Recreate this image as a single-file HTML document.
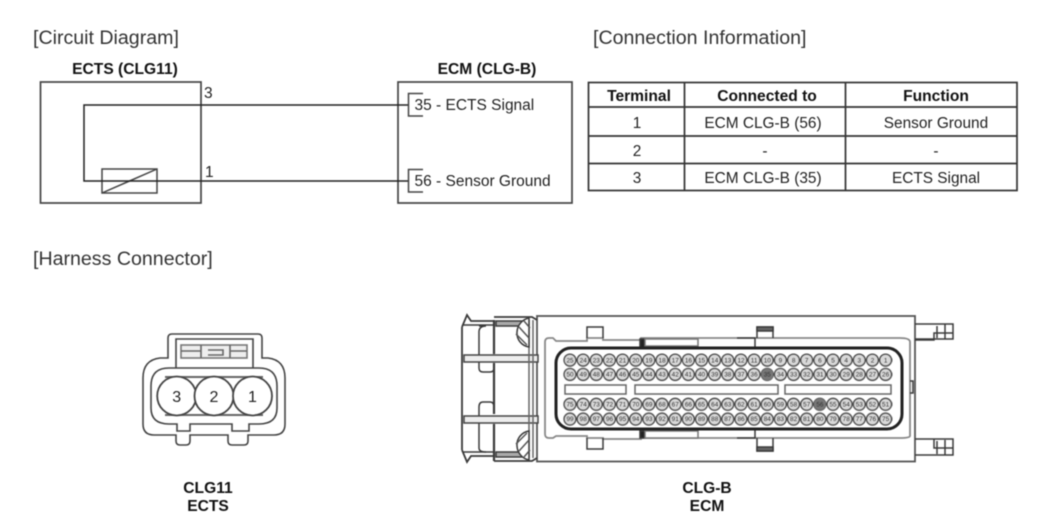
<!DOCTYPE html>
<html><head><meta charset="utf-8"><style>
html,body{margin:0;padding:0;background:#fff;width:1050px;height:528px;overflow:hidden}
svg{display:block;filter:blur(.5px)}
text{font-family:"Liberation Sans",sans-serif;fill:#222}
.h{font-size:19.6px;fill:#333}.b{font-size:15.6px;font-weight:bold;fill:#111;text-anchor:middle}
.t{font-size:15.4px;text-anchor:middle}.l{font-size:15.5px}
.p text{font-size:6.4px;text-anchor:middle;fill:#333}
</style></head><body>
<svg width="1050" height="528" viewBox="0 0 1050 528" xmlns="http://www.w3.org/2000/svg">
<defs>
<pattern id="a" patternUnits="userSpaceOnUse" x="563.4" y="353" width="13.15" height="14.3"><circle cx="6.57" cy="7.1" r="6" fill="#d8d8d8" stroke="#444" stroke-width="1.3"/></pattern>
<pattern id="c" patternUnits="userSpaceOnUse" x="563.4" y="397" width="13.15" height="14.8"><circle cx="6.57" cy="7.3" r="6" fill="#d8d8d8" stroke="#444" stroke-width="1.3"/></pattern>
</defs>
<text class="h" x="33" y="44">[Circuit Diagram]</text>
<text class="h" x="593" y="44">[Connection Information]</text>
<text class="h" x="33" y="265">[Harness Connector]</text>
<text class="b" x="125" y="74">ECTS (CLG11)</text>
<text class="b" x="487" y="74">ECM (CLG-B)</text>
<g fill="none" stroke="#444" stroke-width="1.7">
<rect x="40.5" y="82" width="160.5" height="121"/>
<rect x="398" y="82" width="174" height="121"/>
<rect x="102" y="169" width="55" height="24" stroke-width="1.5"/>
<path d="M102 193L157 169" stroke-width="1.5"/>
<path d="M408 105H84V181H408" stroke="#222" stroke-width="1.5"/>
<path d="M423 93.5H408.500V116H423M423 169.500H408.500V192H423" stroke-width="1.5"/>
</g>
<text class="l" x="204" y="98">3</text>
<text class="l" x="205" y="177">1</text>
<text class="l" x="414.500" y="110">35 - ECTS Signal</text>
<text class="l" x="414.500" y="186">56 - Sensor Ground</text>
<g fill="none" stroke="#333" stroke-width="1.7">
<rect x="588.500" y="82.500" width="428.500" height="108"/>
<path d="M588.500 107H1017M588.500 136H1017M588.500 163.500H1017M684.500 82.500V190.500M845.500 82.500V190.500"/>
</g>
<text class="b" x="639" y="101">Terminal</text>
<text class="b" x="767" y="101">Connected to</text>
<text class="b" x="936" y="101">Function</text>
<text class="t" x="637" y="128">1</text>
<text class="t" x="763" y="128">ECM CLG-B (56)</text>
<text class="t" x="936" y="128">Sensor Ground</text>
<text class="t" x="637" y="156">2</text>
<text class="t" x="765" y="156">-</text>
<text class="t" x="936" y="156">-</text>
<text class="t" x="637" y="183">3</text>
<text class="t" x="763" y="183">ECM CLG-B (35)</text>
<text class="t" x="936" y="183">ECTS Signal</text>

<!-- ECTS connector -->
<g fill="none" stroke="#444" stroke-width="1.6">
<path d="M168 358V338Q168 334 172 334H258Q262 334 262 338V358H268Q285 360 285 378V424Q285 435 274 435H248V441Q248 445 244 445H232Q228 445 228 441V435H190V441Q190 445 186 445H180Q176 445 176 441V435H154Q143 435 143 424V378Q143 360 160 358Z"/>
<path d="M176 368V339H253V368"/>
<rect x="181" y="345" width="66" height="13" stroke="#777" fill="#eee"/>
<path d="M201 345V358M230 345V358M208 350H223V355H208M181 351H201M230 351H247" stroke="#666"/>
<path d="M169 368H259Q277 368 277 386V408Q277 424 259 424H249V431H232V424H190V431H177V424H169Q151 424 151 408V386Q151 368 169 368Z"/>
<path d="M165 377H263M165 415H263" stroke="#666" stroke-width="2"/>
<circle cx="176.700" cy="396" r="19.500" fill="#fff" stroke-width="1.800"/>
<circle cx="214" cy="396" r="19.500" fill="#fff" stroke-width="1.800"/>
<circle cx="252.500" cy="396" r="19.500" fill="#fff" stroke-width="1.800"/>
</g>
<text x="176.700" y="402" style="font-size:16px;text-anchor:middle">3</text>
<text x="214" y="402" style="font-size:16px;text-anchor:middle">2</text>
<text x="252.500" y="402" style="font-size:16px;text-anchor:middle">1</text>
<text class="b" x="208" y="493">CLG11</text>
<text class="b" x="208" y="511">ECTS</text>
<text class="b" x="707" y="493">CLG-B</text>
<text class="b" x="707" y="511">ECM</text>

<!-- ECM connector housing -->
<g fill="none" stroke="#3a3a3a" stroke-width="1.500">
<rect x="537" y="316" width="378" height="145.500" stroke-width="1.800" stroke="#555"/>
<path d="M462 327V450M462 327L467 315L471 321H494M462 450L467 462L471 456H494" stroke-width="1.800"/>
<path d="M463 325H494M463 452H494"/>
<path d="M494 320V354M494 363V414M494 424V461" stroke-width="2.200"/>
<path d="M479 326H486Q479 326 479 332V368Q479 372 483 372H490Q494 372 494 368M494 407Q494 402 490 402H483Q479 402 479 407V448Q479 452 486 452"/>
<path d="M494 317H532L537 320M494 461H532L537 458" stroke-width="1.800"/>
<path d="M496 321H525V326H496ZM496 452H525V457H496Z" fill="#aaa"/>
<rect x="464" y="355" width="74" height="7" fill="#eee" stroke="#444"/>
<rect x="464" y="416" width="74" height="7" fill="#eee" stroke="#444"/>
<path d="M529 320V458M533 320V458" stroke="#666"/>
<path d="M529 318A15 15 0 0 0 517 332A14 14 0 0 0 529 347ZM529 460A15 15 0 0 1 517 446A14 14 0 0 1 529 431Z" fill="#fff" stroke-width="1.500"/>
<path d="M519 327L529 338M516 334L527 345M524 321L530 328M519 451L529 440M516 444L527 433M524 457L530 450" stroke="#555"/>
<path d="M545 342Q545 338 549 338H553L556 341H587V338H603V340H641V338H758V338H900Q910 338 910 342V436Q910 438 900 438H760V438H641V439H603V438H587V436H556L553 438H549Q545 438 545 434Z" stroke="#888" stroke-width="1.800"/>
<path d="M587 338V327H603V338M587 438V449H603V438M757 338V327H773V338M757 438V451H773V438"/>
<path d="M640 339H645V348H640ZM640 431H645V438H640Z" fill="#222"/>
<path d="M645 339H698V346H645ZM645 431H698V438H645Z" stroke="#777" fill="#fff"/>
<path d="M757 327H773V331H757ZM757 447H773V451H757Z" fill="#666"/>
<path d="M737 338H755V348M737 438H755V430"/>
<path d="M915 324H953V339H915M915 340H934V333H953M915 439H953V455H915M934 439V448H953M937 326V338M945 324V339M945 440V455M937 441V454" stroke-width="1.500"/>
<rect x="556" y="348" width="346" height="81" rx="15" stroke="#222" stroke-width="3"/>
<rect x="565" y="385" width="61" height="9" stroke="#666"/>
<rect x="635" y="385" width="143" height="9" stroke="#666"/>
<rect x="785" y="385" width="106" height="9" stroke="#666"/>
<path d="M910 381H913V393H910"/>
</g>
<rect x="563.400" y="353" width="329" height="28.600" fill="url(#a)"/>
<rect x="563.400" y="397" width="329" height="29.600" fill="url(#c)"/>
<circle cx="767.300" cy="374.500" r="6" fill="#777"/>
<circle cx="819.900" cy="404.300" r="6" fill="#777"/>
<g class="p">
<text x="570" y="362.300">25</text><text x="583.200" y="362.300">24</text><text x="596.300" y="362.300">23</text><text x="609.500" y="362.300">22</text><text x="622.600" y="362.300">21</text><text x="635.800" y="362.300">20</text><text x="648.900" y="362.300">19</text><text x="662.100" y="362.300">18</text><text x="675.200" y="362.300">17</text><text x="688.400" y="362.300">16</text><text x="701.500" y="362.300">15</text><text x="714.700" y="362.300">14</text><text x="727.800" y="362.300">13</text><text x="741" y="362.300">12</text><text x="754.100" y="362.300">11</text><text x="767.300" y="362.300">10</text><text x="780.400" y="362.300">9</text><text x="793.600" y="362.300">8</text><text x="806.700" y="362.300">7</text><text x="819.900" y="362.300">6</text><text x="833" y="362.300">5</text><text x="846.200" y="362.300">4</text><text x="859.300" y="362.300">3</text><text x="872.500" y="362.300">2</text><text x="885.600" y="362.300">1</text>
<text x="570" y="376.700">50</text><text x="583.200" y="376.700">49</text><text x="596.300" y="376.700">48</text><text x="609.500" y="376.700">47</text><text x="622.600" y="376.700">46</text><text x="635.800" y="376.700">45</text><text x="648.900" y="376.700">44</text><text x="662.100" y="376.700">43</text><text x="675.200" y="376.700">42</text><text x="688.400" y="376.700">41</text><text x="701.500" y="376.700">40</text><text x="714.700" y="376.700">39</text><text x="727.800" y="376.700">38</text><text x="741" y="376.700">37</text><text x="754.100" y="376.700">36</text><text x="767.300" y="376.700">35</text><text x="780.400" y="376.700">34</text><text x="793.600" y="376.700">33</text><text x="806.700" y="376.700">32</text><text x="819.900" y="376.700">31</text><text x="833" y="376.700">30</text><text x="846.200" y="376.700">29</text><text x="859.300" y="376.700">28</text><text x="872.500" y="376.700">27</text><text x="885.600" y="376.700">26</text>
<text x="570" y="406.500">75</text><text x="583.200" y="406.500">74</text><text x="596.300" y="406.500">73</text><text x="609.500" y="406.500">72</text><text x="622.600" y="406.500">71</text><text x="635.800" y="406.500">70</text><text x="648.900" y="406.500">69</text><text x="662.100" y="406.500">68</text><text x="675.200" y="406.500">67</text><text x="688.400" y="406.500">66</text><text x="701.500" y="406.500">65</text><text x="714.700" y="406.500">64</text><text x="727.800" y="406.500">63</text><text x="741" y="406.500">62</text><text x="754.100" y="406.500">61</text><text x="767.300" y="406.500">60</text><text x="780.400" y="406.500">59</text><text x="793.600" y="406.500">58</text><text x="806.700" y="406.500">57</text><text x="819.900" y="406.500">56</text><text x="833" y="406.500">55</text><text x="846.200" y="406.500">54</text><text x="859.300" y="406.500">53</text><text x="872.500" y="406.500">52</text><text x="885.600" y="406.500">51</text>
<text x="570" y="421.200">99</text><text x="583.200" y="421.200">98</text><text x="596.300" y="421.200">97</text><text x="609.500" y="421.200">96</text><text x="622.600" y="421.200">95</text><text x="635.800" y="421.200">94</text><text x="648.900" y="421.200">93</text><text x="662.100" y="421.200">92</text><text x="675.200" y="421.200">91</text><text x="688.400" y="421.200">90</text><text x="701.500" y="421.200">89</text><text x="714.700" y="421.200">88</text><text x="727.800" y="421.200">87</text><text x="741" y="421.200">86</text><text x="754.100" y="421.200">85</text><text x="767.300" y="421.200">84</text><text x="780.400" y="421.200">83</text><text x="793.600" y="421.200">82</text><text x="806.700" y="421.200">81</text><text x="819.900" y="421.200">80</text><text x="833" y="421.200">79</text><text x="846.200" y="421.200">78</text><text x="859.300" y="421.200">77</text><text x="872.500" y="421.200">76</text><text x="885.600" y="421.200">75</text>
</g>
</svg>
</body></html>
